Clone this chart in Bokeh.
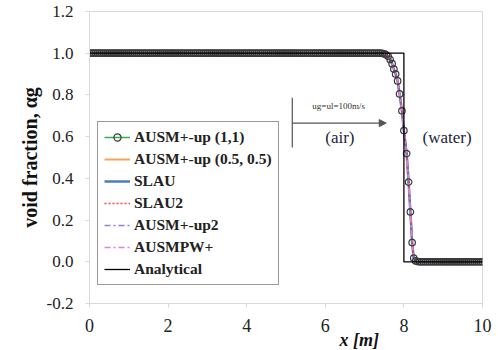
import numpy as np
from bokeh.plotting import figure
from bokeh.models import (Range1d, FixedTicker, PrintfTickFormatter, Legend, LegendItem,
                          Label, Arrow, NormalHead, Title)
from bokeh.embed import file_html
from bokeh.resources import INLINE

# ---------------- data ----------------
x_ticks = [0, 2, 4, 6, 8, 10]
y_ticks = [-0.2, 0.0, 0.2, 0.4, 0.6, 0.8, 1.0, 1.2]

# cell positions in the uniform air / water regions (mesh), values read as 1 and 0
x_air = [round(v, 3) for v in np.arange(0.0, 7.42, 0.05)]
a_air = [1.0] * len(x_air)
x_front = [7.45, 7.50, 7.55, 7.60, 7.65, 7.70, 7.745, 7.79, 7.84, 7.89, 7.95, 8.00,
           8.07, 8.12, 8.165, 8.21, 8.25, 8.30, 8.35]
a_front = [0.999, 0.997, 0.993, 0.985, 0.970, 0.950, 0.924, 0.900, 0.867, 0.805, 0.724,
           0.629, 0.519, 0.382, 0.239, 0.092, 0.018, 0.004, 0.001]
x_water = [round(v, 3) for v in np.arange(8.40, 10.001, 0.05)]
a_water = [0.0] * len(x_water)

x_num = x_air + x_front + x_water
ausm_up_11 = a_air + a_front + a_water
ausm_up_05 = a_air + a_front + a_water
slau = a_air + a_front + a_water
slau2 = a_air + a_front + a_water
ausm_up2 = a_air + a_front + a_water
ausmpw = a_air + a_front + a_water

x_exact = [0.0, 8.0, 8.0, 10.0]
a_exact = [1.0, 1.0, 0.0, 0.0]

SERIF = "Liberation Serif"

p = figure(frame_width=393, frame_height=292, output_backend="svg", toolbar_location=None,
           x_range=Range1d(0, 10), y_range=Range1d(-0.2, 1.2),
           min_border_left=89, min_border_right=14, min_border_top=11, min_border_bottom=47)
p.background_fill_color = "white"
p.border_fill_color = "white"
p.outline_line_color = "#d9d9d9"
p.xgrid.visible = False
p.ygrid.visible = False

for ax in (p.xaxis[0], p.yaxis[0]):
    ax.axis_line_color = "#d9d9d9"
    ax.major_tick_line_color = "#d9d9d9"
    ax.minor_tick_line_color = None
    ax.major_tick_in = 0
    ax.major_tick_out = 4
    ax.major_label_text_font = SERIF
    ax.major_label_text_color = "#222222"

p.xaxis.ticker = FixedTicker(ticks=x_ticks)
p.yaxis.ticker = FixedTicker(ticks=y_ticks)
p.yaxis.formatter = PrintfTickFormatter(format="%.1f")
p.xaxis.major_label_text_font_size = "18px"
p.yaxis.major_label_text_font_size = "17px"
p.xaxis.major_label_standoff = 11
p.yaxis.major_label_standoff = 12

p.yaxis.axis_label = "void fraction, \u03b1g"
p.yaxis.axis_label_text_font = SERIF
p.yaxis.axis_label_text_font_style = "bold"
p.yaxis.axis_label_text_font_size = "20px"
p.yaxis.axis_label_text_color = "#111111"
p.yaxis.axis_label_standoff = 3

# x-axis label, placed right of centre as in the reference
p.add_layout(Title(text="x [m]", align="left", offset=250, standoff=-14,
                   text_font=SERIF, text_font_style="bold italic", text_font_size="18px",
                   text_color="#111111"), "below")

# ---------------- series ----------------
r_g = p.line(x_num, ausm_up_11, line_color="#2fb34a", line_width=1.5)
r_o = p.line(x_num, ausm_up_05, line_color="#f7a35c", line_width=2)
r_b = p.line(x_num, slau, line_color="#4a7ebb", line_width=2.5)
r_r = p.line(x_num, slau2, line_color="#ff4040", line_width=1.5, line_dash="2 2")
r_p = p.line(x_num, ausm_up2, line_color="#9b7fd6", line_width=1.5, line_dash="6 3 2 3")
r_k = p.line(x_num, ausmpw, line_color="#e67fd9", line_width=1.5, line_dash="6 3 2 3")
r_m = p.scatter(x_num, ausm_up_11, marker="circle", size=6.5, fill_color=None,
                line_color="#3a3a3a", line_width=1.2)
r_a = p.line(x_exact, a_exact, line_color="black", line_width=1.3)

legend = Legend(items=[
    LegendItem(label="AUSM+-up (1,1)", renderers=[r_g, r_m]),
    LegendItem(label="AUSM+-up (0.5, 0.5)", renderers=[r_o]),
    LegendItem(label="SLAU", renderers=[r_b]),
    LegendItem(label="SLAU2", renderers=[r_r]),
    LegendItem(label="AUSM+-up2", renderers=[r_p]),
    LegendItem(label="AUSMPW+", renderers=[r_k]),
    LegendItem(label="Analytical", renderers=[r_a]),
], location=(8, 18))
legend.label_text_font = SERIF
legend.label_text_font_style = "bold"
legend.label_text_font_size = "15.5px"
legend.label_text_color = "#222222"
legend.padding = 6
legend.spacing = 4
legend.glyph_height = 18
legend.label_height = 18
legend.glyph_width = 26
legend.label_standoff = 4
legend.margin = 0
legend.border_line_color = "#333333"
legend.border_line_width = 1.2
legend.background_fill_color = "white"
legend.background_fill_alpha = 1
p.add_layout(legend)

# ---------------- annotation ----------------
p.line([5.16, 5.16], [0.786, 0.548], line_color="#555555", line_width=1.2)
p.add_layout(Arrow(end=NormalHead(size=7, fill_color="#555555", line_color="#555555"),
                   x_start=5.16, y_start=0.665, x_end=7.55, y_end=0.665,
                   line_color="#555555", line_width=1.2))
p.add_layout(Label(x=6.34, y=0.745, text="ug=ul=100m/s", text_font=SERIF,
                   text_font_size="9px", text_align="center", text_baseline="middle",
                   text_color="#333333"))
p.add_layout(Label(x=6.37, y=0.597, text="(air)", text_font=SERIF,
                   text_font_size="17px", text_align="center", text_baseline="middle",
                   text_color="#1e1e3c"))
p.add_layout(Label(x=9.10, y=0.597, text="(water)", text_font=SERIF,
                   text_font_size="17px", text_align="center", text_baseline="middle",
                   text_color="#1e1e3c"))

open("out.html", "w").write(file_html(p, INLINE))
